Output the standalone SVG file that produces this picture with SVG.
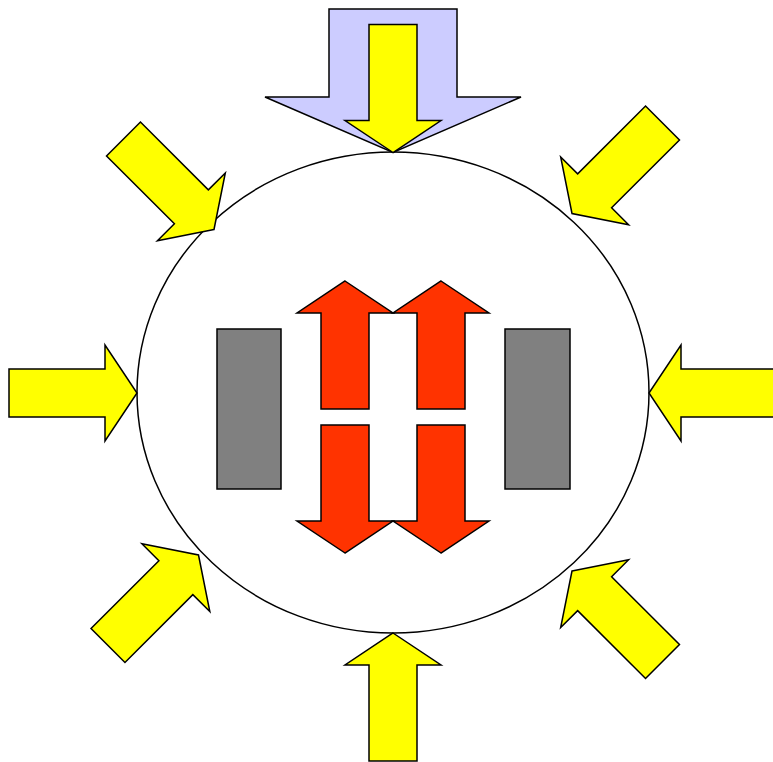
<svg xmlns="http://www.w3.org/2000/svg" width="773" height="762" viewBox="0 0 773 762">
  <style>
    .ol { stroke: #000; stroke-width: 1.5; stroke-linejoin: miter; }
    .yellow { fill: #FFFF00; }
    .red { fill: #FF3300; }
    .gray { fill: #808080; }
    .blue { fill: #CCCCFF; }
  </style>
  <defs>
    <polygon id="arrow" points="0,0 48,32 24,32 24,128 -24,128 -24,32 -48,32"/>
  </defs>
  <rect width="773" height="762" fill="#fff"/>
  <g id="circle">
    <ellipse class="ol" cx="393" cy="392.5" rx="256" ry="240.5" fill="#fff"/>
  </g>
  <g id="big-blue-arrow">
    <polygon class="ol blue" points="329,9 457,9 457,97 521,97 393,152.5 265,97 329,97"/>
  </g>
  <g id="connectors">
    <use href="#arrow" class="ol yellow" transform="translate(393,152.5) rotate(180)"/>
    <use href="#arrow" class="ol yellow" transform="translate(393,633) rotate(0)"/>
    <use href="#arrow" class="ol yellow" transform="translate(137,393) rotate(90)"/>
    <use href="#arrow" class="ol yellow" transform="translate(649,393) rotate(-90)"/>
    <use href="#arrow" class="ol yellow" transform="translate(214,229.5) rotate(135)"/>
    <use href="#arrow" class="ol yellow" transform="translate(572,213.5) rotate(-135)"/>
    <use href="#arrow" class="ol yellow" transform="translate(198.5,555) rotate(45)"/>
    <use href="#arrow" class="ol yellow" transform="translate(572,571) rotate(-45)"/>
  </g>
  <g id="left-block">
    <rect class="ol gray" x="217" y="329" width="64" height="160"/>
  </g>
  <g id="right-block">
    <rect class="ol gray" x="505" y="329" width="65" height="160"/>
  </g>
  <g id="red-arrows">
    <use href="#arrow" class="ol red" transform="translate(345,281)"/>
    <use href="#arrow" class="ol red" transform="translate(441,281)"/>
    <use href="#arrow" class="ol red" transform="translate(345,553) rotate(180)"/>
    <use href="#arrow" class="ol red" transform="translate(441,553) rotate(180)"/>
  </g>
</svg>
